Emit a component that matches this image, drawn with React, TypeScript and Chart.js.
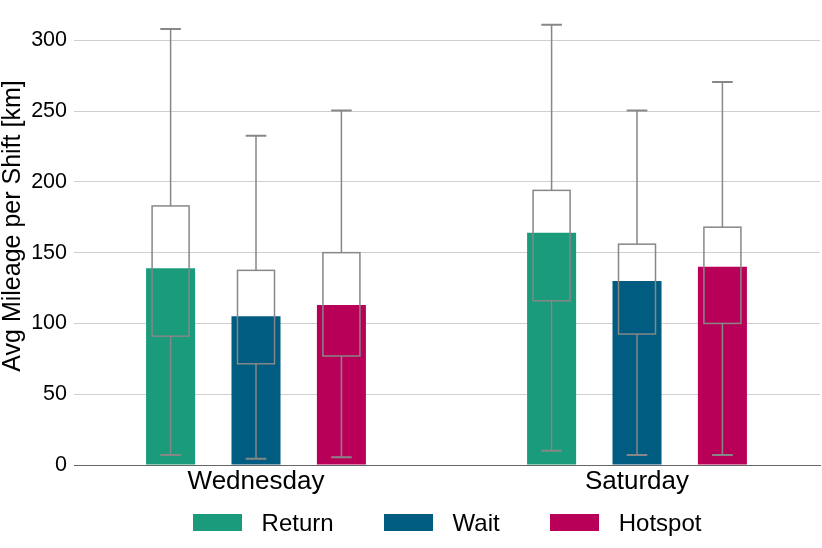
import React, { useEffect, useRef } from 'react';
import { Chart, registerables } from 'chart.js';

Chart.register(...registerables);

const days = ['Wednesday', 'Saturday'];
const seriesNames = ['Return', 'Wait', 'Hotspot'];
const seriesColors = ['#1a9b7b', '#005c80', '#b90058'];

// average mileage (bar heights)
const returnAvg = [139, 164];
const waitAvg = [105, 130];
const hotspotAvg = [113, 140];

// box / whisker stats: low whisker, q1, q3, high whisker
const returnLow = [7, 10];
const returnQ1 = [91, 116];
const returnQ3 = [183, 194];
const returnHigh = [308, 311];

const waitLow = [4.5, 7];
const waitQ1 = [71.5, 92.5];
const waitQ3 = [137.5, 156];
const waitHigh = [232.5, 250.5];

const hotspotLow = [5.5, 7];
const hotspotQ1 = [77, 100];
const hotspotQ3 = [150, 168];
const hotspotHigh = [250.5, 270.5];

const yTicks = [0, 50, 100, 150, 200, 250, 300];
const yTitle = 'Avg Mileage per Shift [km]';

const FONT = "'Liberation Sans', Arial, Helvetica, sans-serif";

const boxStats = [
  { low: returnLow, q1: returnQ1, q3: returnQ3, high: returnHigh },
  { low: waitLow, q1: waitQ1, q3: waitQ3, high: waitHigh },
  { low: hotspotLow, q1: hotspotQ1, q3: hotspotQ3, high: hotspotHigh },
];

const whiskerPlugin = {
  id: 'whiskers',
  afterDatasetsDraw(chart: any) {
    const { ctx } = chart;
    const y = chart.scales.y;
    ctx.save();
    ctx.strokeStyle = '#878787';
    chart.data.datasets.forEach((_ds: any, i: number) => {
      const st = boxStats[i];
      chart.getDatasetMeta(i).data.forEach((bar: any, j: number) => {
        const cx = bar.x;
        const boxW = bar.width * 0.755;
        const capW = bar.width * 0.42;
        const pLow = y.getPixelForValue(st.low[j]);
        const pQ1 = y.getPixelForValue(st.q1[j]);
        const pQ3 = y.getPixelForValue(st.q3[j]);
        const pHigh = y.getPixelForValue(st.high[j]);
        ctx.lineWidth = 1.5;
        ctx.strokeRect(cx - boxW / 2, pQ3, boxW, pQ1 - pQ3);
        ctx.beginPath();
        ctx.moveTo(cx, pQ3);
        ctx.lineTo(cx, pHigh);
        ctx.moveTo(cx, pQ1);
        ctx.lineTo(cx, pLow);
        ctx.stroke();
        ctx.lineWidth = 2;
        ctx.beginPath();
        ctx.moveTo(cx - capW / 2, pHigh);
        ctx.lineTo(cx + capW / 2, pHigh);
        ctx.moveTo(cx - capW / 2, pLow);
        ctx.lineTo(cx + capW / 2, pLow);
        ctx.stroke();
      });
    });
    ctx.restore();
  },
};

// y title, drawn a little above the axis middle like the original
const yTitlePlugin = {
  id: 'yTitle',
  afterDraw(chart: any) {
    const { ctx } = chart;
    const y = chart.scales.y;
    ctx.save();
    ctx.translate(y.left + 13.5, (y.top + y.bottom) / 2 - 12.5);
    ctx.rotate(-Math.PI / 2);
    ctx.font = `25px ${FONT}`;
    ctx.fillStyle = '#000';
    ctx.textAlign = 'center';
    ctx.textBaseline = 'middle';
    ctx.fillText(yTitle, 0, 0);
    ctx.restore();
  },
};

const App = () => {
  const chartRef = useRef<HTMLCanvasElement | null>(null);

  useEffect(() => {
    const canvas = chartRef.current;
    if (!canvas) return;
    const ctx = canvas.getContext('2d');
    if (!ctx) return;

    const values = [returnAvg, waitAvg, hotspotAvg];
    const datasets = seriesNames.map((name, i) => ({
      label: name,
      data: days.map((_, j) => ({ x: j, y: values[i][j] })),
      backgroundColor: seriesColors[i],
      borderWidth: 0,
      categoryPercentage: 0.6725,
      barPercentage: 0.574,
    }));

    const chart = new Chart(ctx, {
      type: 'bar',
      data: { datasets },
      plugins: [whiskerPlugin, yTitlePlugin],
      options: {
        animation: false,
        responsive: true,
        maintainAspectRatio: false,
        layout: { padding: { top: 12, right: 2, bottom: 48, left: 0 } },
        plugins: {
          legend: { display: false },
          tooltip: { enabled: false },
        },
        scales: {
          x: {
            type: 'linear',
            offset: false,
            min: -0.4777,
            max: 1.4803,
            afterBuildTicks: (axis: any) => {
              axis.ticks = days.map((_, i) => ({ value: i }));
            },
            afterFit: (axis: any) => {
              axis.height = 35;
              axis.paddingLeft = 0;
              axis.paddingRight = 0;
            },
            grid: { display: false, drawTicks: false },
            border: { display: true, color: '#666', width: 1 },
            ticks: {
              callback: (v: any) => days[v] ?? '',
              color: '#000',
              padding: 1,
              maxRotation: 0,
              autoSkip: false,
              font: { family: FONT, size: 26 },
            },
          },
          y: {
            min: 0,
            max: 320,
            afterBuildTicks: (axis: any) => {
              axis.ticks = yTicks.map((v) => ({ value: v }));
            },
            afterFit: (axis: any) => {
              axis.width = 74;
              axis.paddingTop = 0;
              axis.paddingBottom = 0;
            },
            grid: {
              color: (c: any) => (c.tick && c.tick.value === 0 ? '#666' : '#cfcfcf'),
              drawTicks: false,
            },
            border: { display: false },
            ticks: {
              color: '#000',
              padding: 7,
              font: { family: FONT, size: 21.5 },
            },
          },
        },
      },
    });

    return () => {
      chart.destroy();
    };
  }, []);

  return (
    <div style={{ position: 'absolute', left: 0, top: 0, width: 822, height: 548, background: '#fff' }}>
      <canvas ref={chartRef} />
      <div
        style={{
          position: 'absolute',
          left: 74,
          width: 746,
          top: 507,
          height: 31,
          display: 'flex',
          justifyContent: 'center',
          alignItems: 'center',
          gap: 50,
          fontFamily: FONT,
          fontSize: 24,
          color: '#000',
        }}
      >
        {seriesNames.map((name, i) => (
          <div key={name} style={{ display: 'flex', alignItems: 'center' }}>
            <span style={{ display: 'inline-block', width: 49, height: 17, background: seriesColors[i], marginRight: 20 }} />
            <span>{name}</span>
          </div>
        ))}
      </div>
    </div>
  );
};

export default App;
